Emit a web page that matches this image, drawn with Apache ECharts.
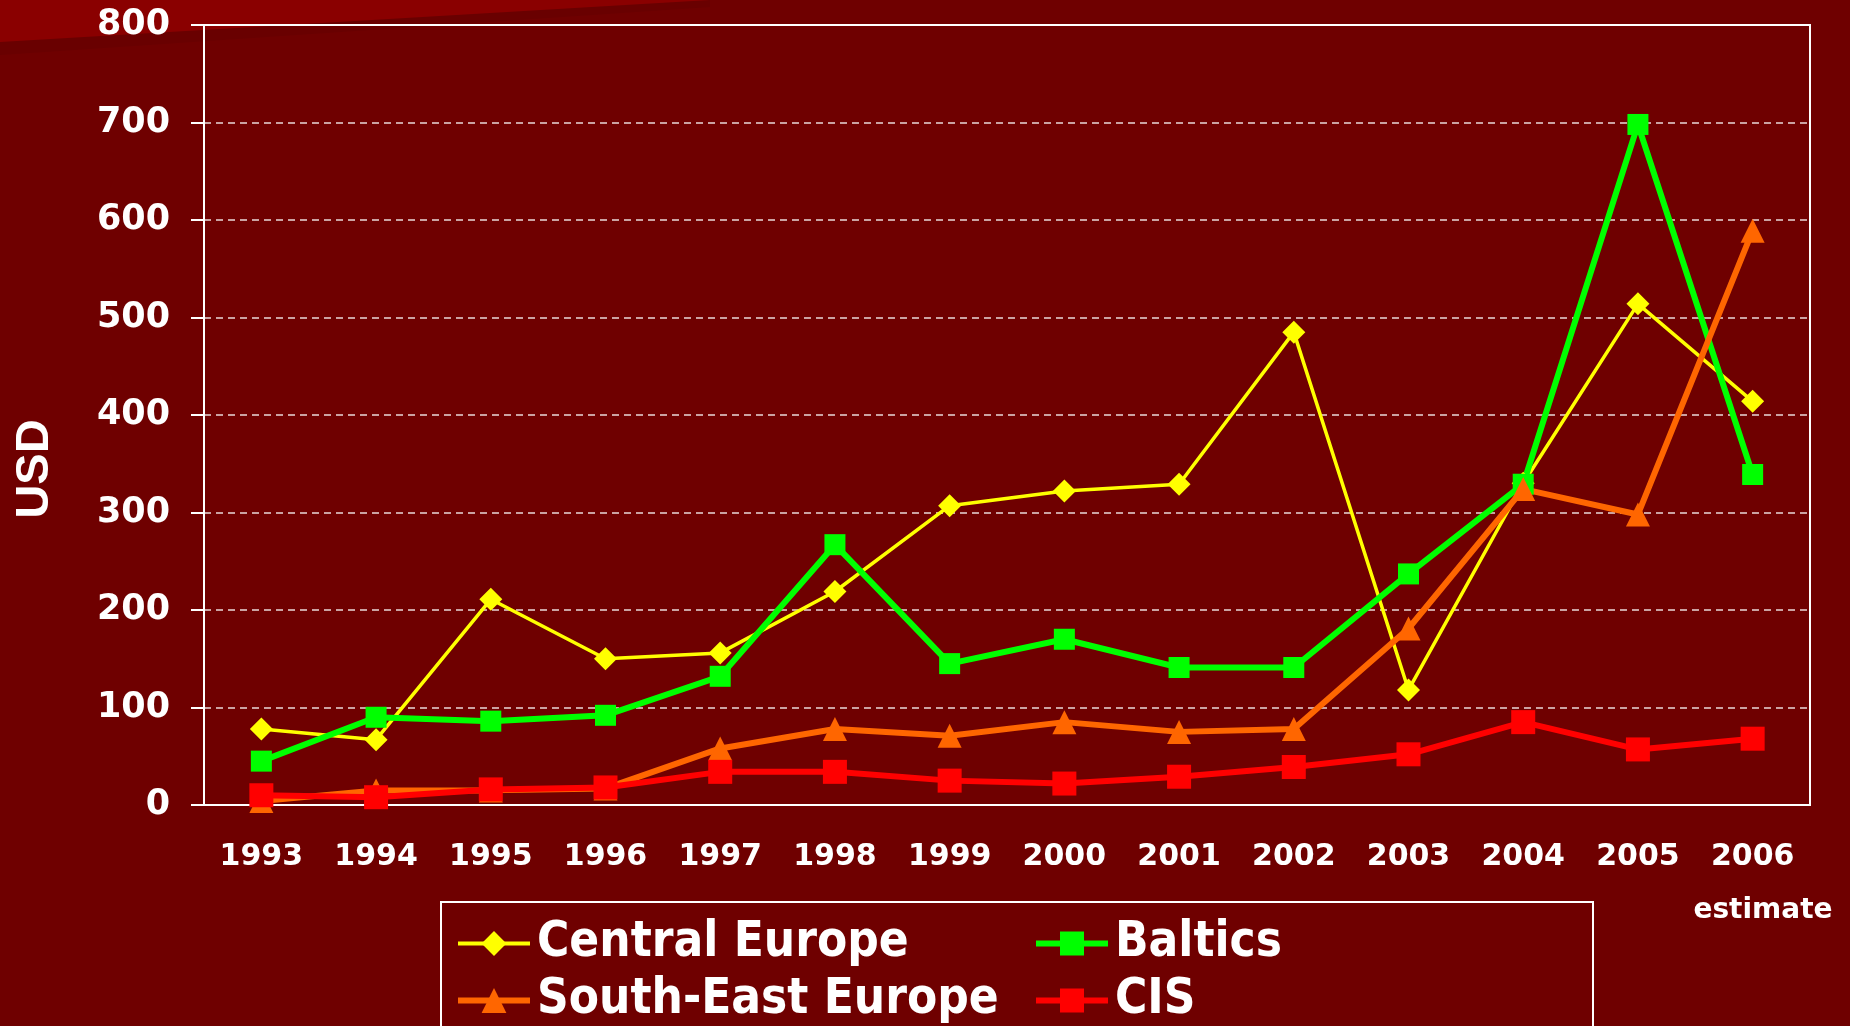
<!DOCTYPE html>
<html>
<head>
<meta charset="utf-8">
<script src="https://cdn.jsdelivr.net/npm/echarts@6/dist/echarts.min.js"></script>
<style>
  html, body { margin: 0; padding: 0; background: #6f0000; }
  #chart { width: 1850px; height: 1026px; }
</style>
</head>
<body>
<div id="chart"></div>
<script>
const years = ['1993', '1994', '1995', '1996', '1997', '1998', '1999', '2000', '2001', '2002', '2003', '2004', '2005', '2006'];
const centralEurope = [78, 67, 211, 150, 156, 219, 307, 322, 329, 485, 118, 330, 514, 414];
const baltics = [45, 90, 86, 92, 132, 267, 145, 170, 141, 141, 237, 329, 698, 339];
const southEastEurope = [4, 15, 15, 17, 58, 78, 71, 85, 75, 78, 181, 324, 298, 589];
const cis = [10, 8, 16, 18, 34, 34, 25, 22, 29, 39, 52, 85, 57, 68];

const chart = echarts.init(document.getElementById('chart'));

const legendText = {
  color: '#ffffff',
  fontSize: 49,
  fontWeight: 'bold',
  fontFamily: 'DejaVu Sans Condensed',
  lineHeight: 57,
  padding: [0, 0, 0, 2]
};

function lineSeries(name, data, color, symbol, size, width) {
  return {
    name: name,
    type: 'line',
    data: data,
    symbol: symbol,
    symbolSize: size,
    showSymbol: true,
    lineStyle: { color: color, width: width },
    itemStyle: { color: color },
    emphasis: { disabled: true }
  };
}

const option = {
  backgroundColor: '#6f0000',
  animation: false,
  graphic: [
    {
      type: 'polygon',
      z: -10,
      shape: { points: [[0, 0], [710, 0], [710, 7], [0, 55]] },
      style: { fill: '#690000' }
    },
    {
      type: 'polygon',
      z: -9,
      shape: { points: [[0, 0], [710, 0], [0, 42]] },
      style: { fill: '#8a0000' }
    },
    {
      type: 'rect',
      z: 1,
      shape: { x: 441, y: 902, width: 1152, height: 200 },
      style: { fill: 'none', stroke: '#ffffff', lineWidth: 2 }
    },
    {
      type: 'text',
      x: 35,
      y: 469,
      rotation: Math.PI / 2,
      style: {
        text: 'USD',
        fill: '#ffffff',
        font: 'bold 47px "Liberation Sans"',
        align: 'center',
        verticalAlign: 'middle'
      }
    },
    {
      type: 'text',
      x: 1763,
      y: 911,
      style: {
        text: 'estimate',
        fill: '#ffffff',
        font: 'bold 28px "DejaVu Sans"',
        align: 'center',
        verticalAlign: 'middle'
      }
    }
  ],
  grid: {
    left: 204,
    right: 40,
    top: 25,
    bottom: 221,
    show: true,
    borderColor: '#ffffff',
    borderWidth: 2
  },
  legend: [
    {
      data: [
        { name: 'Central Europe', lineStyle: { width: 4 } },
        { name: 'South-East Europe', lineStyle: { width: 6 } }
      ],
      orient: 'vertical',
      left: 455,
      top: 915,
      height: 140,
      padding: 0,
      itemGap: 0,
      itemWidth: 72,
      itemHeight: 31,
      selectedMode: false,
      textStyle: legendText
    },
    {
      data: [
        { name: 'Baltics', lineStyle: { width: 6 } },
        { name: 'CIS', lineStyle: { width: 6 } }
      ],
      orient: 'vertical',
      left: 1033,
      top: 915,
      height: 140,
      padding: 0,
      itemGap: 0,
      itemWidth: 72,
      itemHeight: 30,
      selectedMode: false,
      textStyle: legendText
    }
  ],
  xAxis: {
    type: 'category',
    data: years,
    boundaryGap: true,
    axisLine: { lineStyle: { color: '#ffffff', width: 2 } },
    axisTick: { show: false },
    axisLabel: {
      color: '#ffffff',
      fontSize: 30,
      fontWeight: 'bold',
      fontFamily: 'DejaVu Sans',
      margin: 37,
      interval: 0
    },
    splitLine: { show: false }
  },
  yAxis: {
    type: 'value',
    min: 0,
    max: 800,
    interval: 100,
    axisLine: { show: true, lineStyle: { color: '#ffffff', width: 2 } },
    axisTick: { show: true, length: 13, lineStyle: { color: '#ffffff', width: 2 } },
    axisLabel: {
      color: '#ffffff',
      fontSize: 35,
      fontWeight: 'bold',
      fontFamily: 'DejaVu Sans',
      margin: 34
    },
    splitLine: {
      show: true,
      lineStyle: { color: 'rgba(255,255,255,0.85)', width: 1.5, type: [7, 5] }
    }
  },
  series: [
    lineSeries('Central Europe', centralEurope, '#ffff00', 'diamond', 23, 3.5),
    lineSeries('Baltics', baltics, '#00ff00', 'rect', 21, 6),
    lineSeries('South-East Europe', southEastEurope, '#ff6600', 'triangle', 24, 6),
    lineSeries('CIS', cis, '#ff0000', 'rect', 24, 6)
  ]
};

chart.setOption(option);
</script>
</body>
</html>
